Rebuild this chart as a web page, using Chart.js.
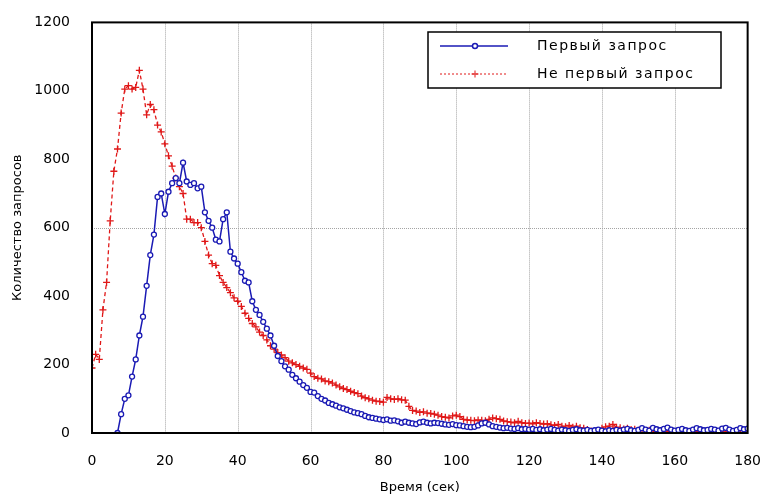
<!DOCTYPE html>
<html>
<head>
<meta charset="utf-8">
<script src="https://cdn.jsdelivr.net/npm/chart.js@4/dist/chart.umd.min.js"></script>
<style>
  body { margin: 0; background: #fff; }
  canvas { display: block; }
</style>
</head>
<body>
<canvas id="chart" width="773" height="498"></canvas>
<script>
// time in seconds, one point per second
const seconds = Array.from({ length: 181 }, (_, i) => i);

// "Первый запрос" (first request), null before the curve starts
const firstRequest = [
  null, null, null, null, null, null, null, 0, 55, 100,
  110, 165, 215, 285, 340, 430, 520, 580, 690, 700,
  640, 705, 730, 745, 730, 790, 735, 725, 730, 715,
  720, 645, 620, 600, 565, 560, 625, 645, 530, 510,
  495, 470, 445, 440, 385, 360, 345, 325, 305, 285,
  255, 225, 210, 195, 185, 170, 160, 150, 140, 132,
  120, 118, 108, 100, 95, 88, 84, 80, 75, 72,
  68, 64, 60, 58, 55, 50, 46, 44, 42, 40,
  38, 40, 36, 37, 34, 30, 33, 30, 28, 26,
  31, 33, 30, 28, 30, 29, 27, 25, 24, 26,
  23, 22, 20, 18, 17, 18, 22, 28, 30, 25,
  20, 18, 16, 14, 15, 13, 12, 14, 11, 12,
  10, 12, 9, 11, 8, 10, 12, 9, 7, 10,
  8, 6, 9, 11, 8, 7, 9, 6, 8, 10,
  7, 5, 8, 6, 9, 7, 10, 12, 8, 6,
  9, 14, 10, 7, 15, 11, 8, 12, 16, 10,
  7, 9, 12, 8, 6, 10, 14, 11, 8, 9,
  12, 10, 7, 13, 15, 10, 6, 9, 14, 11,
  13
];

// "Не первый запрос" (repeat request)
const repeatRequest = [
  190, 230, 215, 360, 440, 620, 765, 830, 935, 1005,
  1015, 1005, 1010, 1060, 1005, 930, 960, 945, 900, 880,
  845, 810, 780, 745, 720, 700, 625, 625, 615, 615,
  600, 560, 520, 495, 490, 460, 440, 425, 410, 395,
  385, 370, 350, 335, 320, 310, 295, 285, 272, 255,
  245, 235, 228, 220, 210, 205, 200, 195, 190, 186,
  175, 165, 160, 158, 152, 150, 146, 140, 135, 130,
  127, 122, 118, 115, 108, 103, 100, 96, 93, 92,
  90, 104, 100, 98, 100, 97, 96, 78, 66, 64,
  60, 62, 58, 57, 55, 52, 48, 46, 44, 50,
  52, 48, 40, 38, 37, 36, 38, 37, 36, 40,
  44, 42, 40, 35, 33, 32, 30, 34, 30, 28,
  29, 27, 30, 28, 26, 27, 24, 22, 25, 20,
  18, 22, 17, 20, 15, 14, 10, 6, 4, 3,
  14, 18, 20, 25, 17, 15, 12, 14, 10, 11,
  8, 9, 7, 8, 6, 5, 7, 4, 5, 3,
  4, 3, 2, 4, 3, 2, 3, 4, 2, 3,
  2, 3, 2, 2, 3, 2, 1, 2, 2, 1,
  2
];

const xTicks = [0, 20, 40, 60, 80, 100, 120, 140, 160, 180];
const yTicks = [0, 200, 400, 600, 800, 1000, 1200];
const xGridAt = [20, 40, 60, 80, 100, 120, 140, 160];
const yGridAt = [600];

const tickFont = { family: 'DejaVu Sans', size: 14 };

// dotted grey grid lines, drawn under the data
const dottedGrid = {
  id: 'dottedGrid',
  beforeDatasetsDraw(chart) {
    const { ctx, chartArea: a } = chart;
    const xs = chart.scales.x, ys = chart.scales.y;
    ctx.save();
    ctx.strokeStyle = '#a4a4a4';
    ctx.lineWidth = 1;
    ctx.setLineDash([1, 1]);
    ctx.beginPath();
    xGridAt.forEach(v => {
      const x = Math.round(xs.getPixelForValue(v)) + 0.5;
      ctx.moveTo(x, a.top);
      ctx.lineTo(x, a.bottom);
    });
    yGridAt.forEach(v => {
      const y = Math.round(ys.getPixelForValue(v)) + 0.5;
      ctx.moveTo(a.left, y);
      ctx.lineTo(a.right, y);
    });
    ctx.stroke();
    ctx.restore();
  }
};

// black frame round the plot area
const framePlugin = {
  id: 'frame',
  afterDatasetsDraw(chart) {
    const { ctx, chartArea: a } = chart;
    ctx.save();
    ctx.strokeStyle = '#000';
    ctx.lineWidth = 2;
    ctx.strokeRect(a.left, a.top, a.right - a.left, a.bottom - a.top);
    ctx.restore();
  }
};

// boxed legend inside the plot, upper right
const boxLegend = {
  id: 'boxLegend',
  afterDraw(chart) {
    const ctx = chart.ctx;
    const box = { x: 428, y: 32, w: 293, h: 56 };
    ctx.save();
    ctx.fillStyle = '#fff';
    ctx.fillRect(box.x, box.y, box.w, box.h);
    ctx.strokeStyle = '#000';
    ctx.lineWidth = 1.5;
    ctx.strokeRect(box.x, box.y, box.w, box.h);
    chart.data.datasets.forEach((ds, i) => {
      const y = 46 + i * 28;
      ctx.strokeStyle = ds.borderColor;
      ctx.lineWidth = i === 0 ? 1.5 : 1;
      ctx.setLineDash(i === 0 ? [] : [2, 2]);
      ctx.beginPath();
      ctx.moveTo(440, y);
      ctx.lineTo(508, y);
      ctx.stroke();
      ctx.setLineDash([]);
      Chart.helpers.drawPoint(ctx, {
        pointStyle: ds.pointStyle,
        radius: ds.pointRadius,
        borderWidth: ds.pointBorderWidth
      }, 475, y);
      ctx.fillStyle = '#000';
      ctx.font = '14px "DejaVu Sans"';
      ctx.letterSpacing = '1.5px';
      ctx.textBaseline = 'middle';
      ctx.textAlign = 'left';
      ctx.fillText(ds.label, 537, y);
    });
    ctx.restore();
  }
};

new Chart(document.getElementById('chart'), {
  type: 'line',
  data: {
    labels: seconds,
    datasets: [
      {
        label: 'Первый запрос',
        data: firstRequest,
        borderColor: '#1a1ab4',
        backgroundColor: '#fff',
        borderWidth: 1.5,
        pointStyle: 'circle',
        pointRadius: 2.5,
        pointBorderWidth: 1.3,
        pointBorderColor: '#1a1ab4',
        pointBackgroundColor: '#fff',
        tension: 0
      },
      {
        label: 'Не первый запрос',
        data: repeatRequest,
        borderColor: '#e01818',
        borderWidth: 1.3,
        borderDash: [4, 3],
        pointStyle: 'cross',
        pointRadius: 3.5,
        pointBorderWidth: 1.3,
        pointBorderColor: '#e01818',
        tension: 0
      }
    ]
  },
  options: {
    responsive: false,
    animation: false,
    layout: { padding: { left: 0, top: 16, right: 16, bottom: 0 } },
    plugins: { legend: { display: false }, tooltip: { enabled: false } },
    scales: {
      x: {
        type: 'linear',
        min: 0, max: 180,
        afterBuildTicks: s => { s.ticks = xTicks.map(v => ({ value: v })); },
        afterFit: s => { s.height = 65; },
        grid: { display: false },
        border: { display: false },
        ticks: { font: tickFont, color: '#000', padding: 12, maxRotation: 0, callback: v => String(v) },
        title: {
          display: true, text: 'Время (сек)', color: '#000',
          font: { family: 'DejaVu Sans', size: 13 }, padding: { top: 0, bottom: 3 }
        }
      },
      y: {
        min: 0, max: 1200,
        afterBuildTicks: s => { s.ticks = yTicks.map(v => ({ value: v })); },
        afterFit: s => { s.width = 92; },
        grid: { display: false },
        border: { display: false },
        ticks: { font: tickFont, color: '#000', padding: 14, callback: v => String(v) },
        title: {
          display: true, text: 'Количество запросов', color: '#000',
          font: { family: 'DejaVu Sans', size: 13 }, padding: { top: 10, bottom: 0 }
        }
      }
    }
  },
  plugins: [dottedGrid, framePlugin, boxLegend]
});
</script>
</body>
</html>
